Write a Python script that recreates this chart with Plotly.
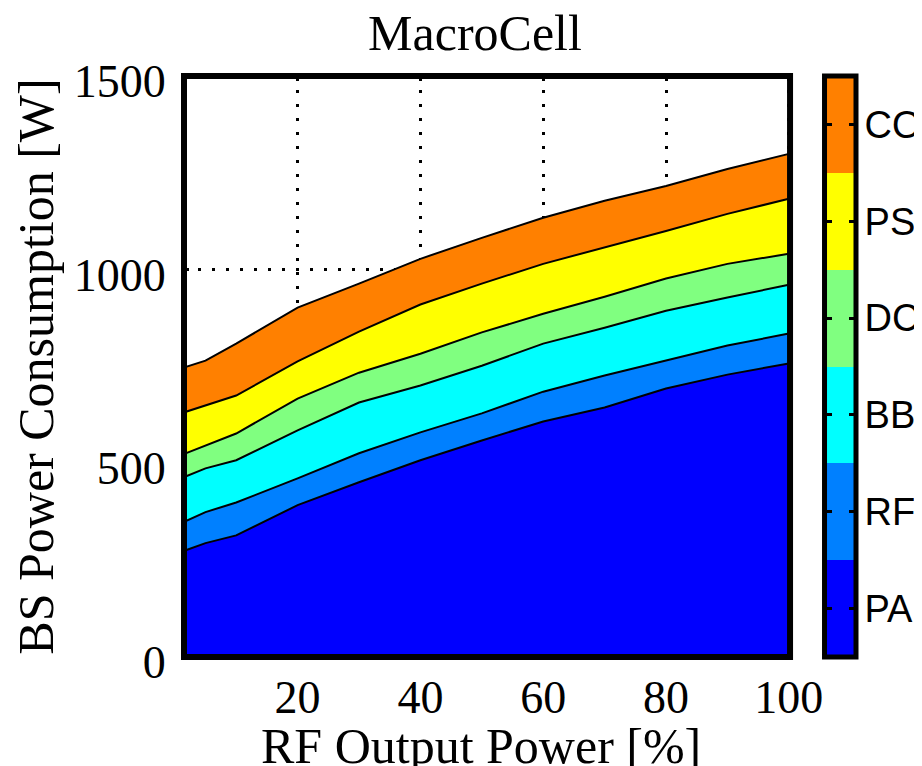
import plotly.graph_objects as go

# RF output power [%]
x_pct = [1, 5, 10, 20, 30, 40, 50, 60, 70, 80, 90, 100]

# Component power consumption [W] (stacked from bottom)
pa = [271, 294, 314, 392, 451, 508, 559, 608, 644, 693, 729, 758]
rf = [74, 80, 85, 69, 75, 72, 70, 77, 83, 72, 75, 77]
bb = [116, 113, 109, 124, 131, 121, 123, 124, 123, 129, 124, 126]
dc = [60, 59, 69, 82, 77, 82, 86, 77, 80, 83, 87, 80]
ps = [108, 103, 98, 96, 106, 127, 126, 129, 127, 123, 129, 142]
co = [116, 116, 134, 139, 124, 118, 118, 119, 121, 116, 116, 116]

layer_names = ["PA", "RF", "BB", "DC", "PS", "CO"]
layer_colors = ["#0000FF", "#0080FF", "#00FFFF", "#80FF80", "#FFFF00", "#FF8000"]
series = [pa, rf, bb, dc, ps, co]

x_ticks = [20, 40, 60, 80, 100]
y_ticks = [0, 500, 1000, 1500]

SERIF = "Liberation Serif"
SANS = "Liberation Sans"

fig = go.Figure()
for name, vals, col in zip(layer_names, series, layer_colors):
    fig.add_trace(go.Scatter(
        x=x_pct, y=vals, name=name, stackgroup="bs", mode="lines",
        line=dict(color="black", width=2), fillcolor=col,
        showlegend=False, hoverinfo="x+y+name"))

# colour bar drawn as a stacked bar on its own axes
for name, col in zip(layer_names, layer_colors):
    fig.add_trace(go.Bar(
        x=[0], y=[1], name=name, width=1, xaxis="x2", yaxis="y2",
        marker=dict(color=col, line=dict(width=0)), showlegend=False,
        hoverinfo="name"))

# page body has an 8px margin, so the figure is laid out 8px up/left
OFF = 8
W, H = 922 - OFF, 766 - OFF
left_px, right_px, top_px, bottom_px = 183.5, 790.0, 76.0, 657.5   # main frame (page px)
cb_left_px, cb_right_px = 824.5, 856.0                              # colour bar frame

ml = left_px - OFF
mt = top_px - OFF
mr = W - (cb_right_px - OFF)
mb = H - (bottom_px - OFF)
paper_w = W - ml - mr
main_right = (right_px - left_px) / paper_w
cb_left = (cb_left_px - left_px) / paper_w

tickfont = dict(family=SERIF, size=46, color="black")
titlefont = dict(family=SERIF, size=50, color="black")

axis_common = dict(
    showline=True, linecolor="black", linewidth=1, mirror="ticks",
    ticks="inside", ticklen=5, tickwidth=3, tickcolor="black",
    showgrid=True, gridcolor="black", gridwidth=3, griddash="3px,11px",
    zeroline=False, tickfont=tickfont, layer="below traces",
)

fig.update_layout(
    width=W, height=H,
    margin=dict(l=ml, r=mr, t=mt, b=mb, autoexpand=False),
    paper_bgcolor="white", plot_bgcolor="white",
    barmode="stack", bargap=0,
    title=dict(text="MacroCell", xref="container", x=(475 - OFF) / W,
               xanchor="center", yref="container", y=1 - (32 - OFF) / H,
               yanchor="middle", font=titlefont),
    xaxis=dict(axis_common, domain=[0, main_right], range=[1.5, 100.2],
               tickvals=x_ticks, ticklabelstandoff=0),
    yaxis=dict(axis_common, range=[0, 1500], tickvals=y_ticks,
               ticklabelstandoff=8, ticklabelshift=5,
               title=dict(text="BS Power Consumption [W]", standoff=10, font=titlefont)),
    xaxis2=dict(domain=[cb_left, 1.0], anchor="y2", range=[-0.5, 0.5],
                showline=False, showticklabels=False, ticks="",
                showgrid=False, zeroline=False, fixedrange=True),
    yaxis2=dict(anchor="x2", domain=[0, 1], range=[0, len(layer_names)], side="right",
                tickvals=[i + 0.5 for i in range(len(layer_names))],
                ticktext=layer_names,
                showline=True, linecolor="black", linewidth=1, mirror="ticks",
                ticks="inside", ticklen=7, tickwidth=3, tickcolor="black",
                showgrid=False, zeroline=False, fixedrange=True,
                ticklabelstandoff=0,
                tickfont=dict(family=SANS, size=38, color="black")),
    shapes=[
        dict(type="rect", xref="x domain", yref="y domain", x0=0, x1=1, y0=0, y1=1,
             line=dict(color="black", width=6), layer="above"),
        dict(type="rect", xref="x2 domain", yref="y2 domain", x0=0, x1=1, y0=0, y1=1,
             line=dict(color="black", width=5), layer="above"),
    ],
    annotations=[
        dict(text="RF Output Power [%]", xref="x domain", yref="y domain",
             x=0.5, y=0, xanchor="center", yanchor="middle",
             xshift=-6, yshift=-(746 - bottom_px), showarrow=False, font=titlefont),
    ],
)

fig.write_html("out.html")
